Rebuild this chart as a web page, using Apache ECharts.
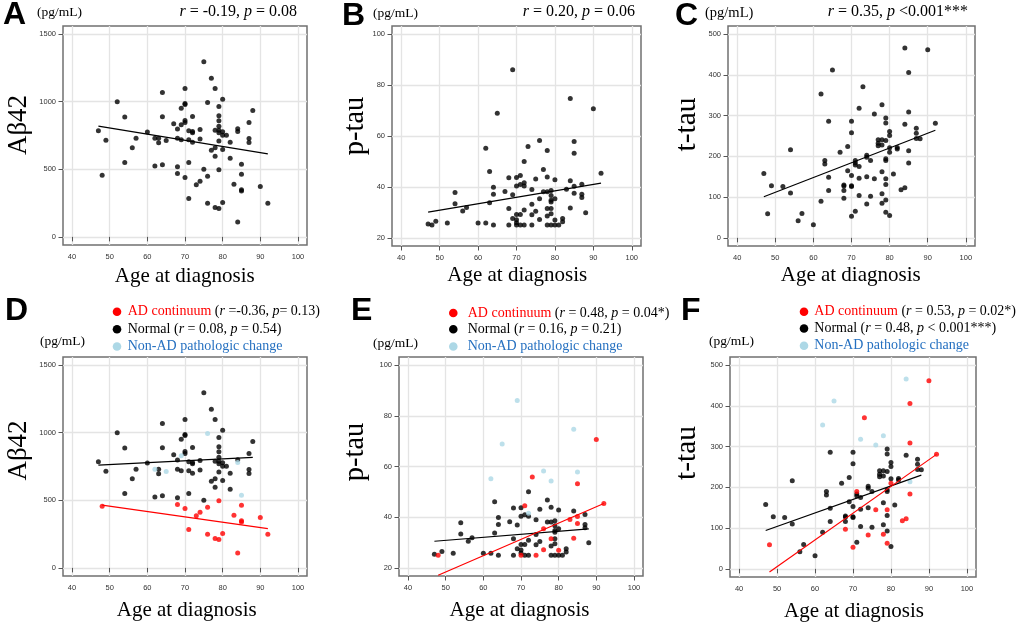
<!DOCTYPE html>
<html lang="en">
<head>
<meta charset="UTF-8">
<title>CSF biomarkers vs age at diagnosis</title>
<script src="https://cdn.jsdelivr.net/npm/echarts@6/dist/echarts.min.js"></script>
<style>
  html, body { margin: 0; padding: 0; background: #fff; }
  #chart { width: 1020px; height: 627px; }
</style>
</head>
<body>
<div id="chart"></div>
<script>
var abetaAD = [[48,456],[68,469],[70,439],[71,284],[73,385],[74,412],[76,449],[76,249],[78,217],[79,210],[79,496],[80,254],[83,390],[84,111],[85,464],[85,348],[85,340],[90,373],[92,249]];
var abetaNonAD = [[62,730],[65,713],[69,829],[76,994],[84,780],[85,538]];
var abetaNormal = [[47,785],[49,715],[52,999],[54,886],[54,550],[56,659],[57,730],[60,775],[62,525],[63,730],[63,696],[64,1068],[64,888],[64,533],[67,836],[68,799],[68,730],[68,518],[69,952],[69,718],[70,1098],[70,987],[70,979],[70,861],[70,846],[71,785],[71,718],[71,550],[72,891],[72,780],[72,770],[72,700],[74,794],[74,725],[75,1295],[75,501],[77,1174],[77,641],[78,1098],[78,789],[78,659],[78,597],[79,965],[79,896],[79,859],[79,819],[79,789],[79,770],[79,710],[80,1019],[80,777],[80,752],[80,646],[81,752],[82,700],[82,582],[84,800],[87,846],[87,728],[87,698],[88,935]];

var ptauAD = [[48,25],[70,25],[71,44.5],[73,55.9],[74,25],[76,35.4],[76,27.2],[78,31.5],[80,27],[83,39.1],[84,31.7],[85,53.2],[85,40.3],[85,37.5],[90,70.7],[92,45.4]];
var ptauNonAD = [[62,55.2],[65,68.9],[69,86],[72,41.6],[76,58.2],[78,54.3],[84,74.7],[85,57.8]];
var ptauNormal = [[47,25.4],[49,26.5],[52,25.8],[54,37.8],[54,33.4],[56,30.5],[57,31.9],[60,25.8],[62,25.8],[63,46.1],[63,33.8],[64,39.9],[64,37.1],[64,25],[67,38.2],[68,43.6],[68,31.5],[68,25],[69,36.9],[69,27.6],[70,43.7],[70,40.4],[70,29.2],[70,27.1],[70,25.9],[71,41],[71,29.2],[71,25],[72,50],[72,40.4],[72,30.9],[72,25],[74,39],[74,33.2],[74,29.1],[75,43.1],[75,30.4],[77,46.8],[77,38.1],[78,43.9],[78,38.1],[78,28.6],[78,25],[79,38.6],[79,36.6],[79,34.8],[79,34.1],[79,31.5],[79,29.5],[79,25],[80,42.8],[80,35.4],[80,25],[81,25],[82,27.6],[82,26.3],[84,42.4],[87,41.1],[87,37.1],[87,35.8],[88,29.9]];

var ttauAD = [[48,59],[68,97],[70,53],[71,190],[73,371],[74,83],[76,145],[78,85],[79,145],[79,63],[80,210],[83,118],[84,123],[85,406],[85,309],[85,184],[90,462],[92,281]];
var ttauNonAD = [[62,353],[65,412],[72,318],[76,304],[78,327],[84,466],[85,214]];
var ttauNormal = [[47,158],[49,128],[52,126],[54,216],[54,110],[56,42],[57,60],[60,32],[62,90],[63,190],[63,181],[64,286],[64,149],[64,116],[67,210],[68,130],[68,127],[68,116],[69,165],[69,224],[70,286],[70,258],[70,153],[70,128],[70,126],[71,65],[71,184],[71,179],[72,175],[72,146],[72,104],[74,203],[74,198],[74,150],[75,190],[75,102],[77,241],[77,232],[77,226],[78,241],[78,228],[78,162],[78,108],[79,294],[79,282],[79,239],[79,194],[79,190],[79,131],[79,93],[80,261],[80,251],[80,221],[80,55],[81,157],[82,222],[82,218],[84,279],[87,269],[87,257],[87,244],[88,243]];

// regression line end points
var fitAbetaAll = [[47,819],[92,614]];
var fitPtauAll = [[47,30.1],[92,41.5]];
var fitTtauAll = [[47,101],[92,264]];
var fitAbetaNormal = [[47,760],[88,817]];
var fitAbetaAD = [[48,464],[92,291]];
var fitPtauNormal = [[47,30.5],[88,35.4]];
var fitPtauAD = [[48,17.1],[92,45.4]];
var fitTtauNormal = [[47,94],[88,230]];
var fitTtauAD = [[48,-8],[92,281]];

var ageTicks = [40, 50, 60, 70, 80, 90, 100];
var abetaTicks = [0, 500, 1000, 1500];
var ptauTicks = [20, 40, 60, 80, 100];
var ttauTicks = [0, 100, 200, 300, 400, 500];

var RED = '#ff0000';
var LIGHTBLUE = '#add8e6';
var BLUE_TEXT = '#2570c0';
var SERIF = '"Liberation Serif", "Times New Roman", serif';
var SANS = '"Liberation Sans", Arial, sans-serif';

var panels = [
    { box: [63, 26, 244, 219], yr: [-60, 1560], yTicks: abetaTicks, step: 500,
      groups: [[abetaNormal.concat(abetaNonAD, abetaAD), '#000']], fits: [[fitAbetaAll, '#000']] },
    { box: [392, 26, 249, 220], yr: [16.8, 103.2], yTicks: ptauTicks, step: 20,
      groups: [[ptauNormal.concat(ptauNonAD, ptauAD), '#000']], fits: [[fitPtauAll, '#000']] },
    { box: [728, 26, 247, 220], yr: [-20, 520], yTicks: ttauTicks, step: 100,
      groups: [[ttauNormal.concat(ttauNonAD, ttauAD), '#000']], fits: [[fitTtauAll, '#000']] },
    { box: [63, 357, 244, 219], yr: [-60, 1560], yTicks: abetaTicks, step: 500,
      groups: [[abetaNormal, '#000'], [abetaNonAD, LIGHTBLUE], [abetaAD, RED]],
      fits: [[fitAbetaNormal, '#000'], [fitAbetaAD, RED]] },
    { box: [399, 357, 244, 219], yr: [16.8, 103.2], yTicks: ptauTicks, step: 20,
      groups: [[ptauNormal, '#000'], [ptauNonAD, LIGHTBLUE], [ptauAD, RED]],
      fits: [[fitPtauNormal, '#000'], [fitPtauAD, RED]] },
    { box: [730, 357, 246, 220], yr: [-20, 520], yTicks: ttauTicks, step: 100,
      groups: [[ttauNormal, '#000'], [ttauNonAD, LIGHTBLUE], [ttauAD, RED]],
      fits: [[fitTtauNormal, '#000'], [fitTtauAD, RED]] }
];

function plain(v) { return String(v); }

var grids = [], xAxes = [], yAxes = [], series = [];
panels.forEach(function (p, i) {
    grids.push({
        left: p.box[0], top: p.box[1], width: p.box[2], height: p.box[3],
        show: true, borderColor: '#707070', borderWidth: 1.5, backgroundColor: '#fff'
    });
    xAxes.push({
        type: 'value', gridIndex: i, min: 37.6, max: 102.4, interval: 10,
        axisLine: { show: false },
        axisTick: { show: true, length: 4.5, customValues: ageTicks, lineStyle: { color: '#555' } },
        axisLabel: { customValues: ageTicks, formatter: plain, fontSize: 7.5, fontFamily: SANS, color: '#333', margin: 8 },
        splitLine: { show: true, lineStyle: { color: '#e4e4e4', width: 1.3 } }
    });
    yAxes.push({
        type: 'value', gridIndex: i, min: p.yr[0], max: p.yr[1], interval: p.step,
        axisLine: { show: false },
        axisTick: { show: true, length: 4.5, customValues: p.yTicks, lineStyle: { color: '#555' } },
        axisLabel: { customValues: p.yTicks, formatter: plain, fontSize: 7.5, fontFamily: SANS, color: '#333', margin: 7 },
        splitLine: { show: true, lineStyle: { color: '#e4e4e4', width: 1.3 } }
    });
    p.groups.forEach(function (g) {
        series.push({
            type: 'scatter', xAxisIndex: i, yAxisIndex: i, data: g[0],
            symbol: 'circle', symbolSize: 5, itemStyle: { color: g[1] }, silent: true
        });
    });
    p.fits.forEach(function (f) {
        series.push({
            type: 'line', xAxisIndex: i, yAxisIndex: i, data: f[0], symbol: 'none',
            lineStyle: { color: f[1], width: 1.2 }, silent: true, z: 3
        });
    });
});

function richSet(size) {
    return {
        n: { fontFamily: SERIF, fontSize: size, fill: '#000' },
        i: { fontFamily: SERIF, fontSize: size, fontStyle: 'italic', fill: '#000' },
        red: { fontFamily: SERIF, fontSize: size, fill: RED },
        blue: { fontFamily: SERIF, fontSize: size, fill: BLUE_TEXT }
    };
}

function txt(x, y, text, size, opt) {
    opt = opt || {};
    return {
        type: 'text', x: x, y: y, rotation: opt.rot || 0, silent: true,
        style: {
            text: text, fontSize: size, fontFamily: opt.family || SERIF,
            fontWeight: opt.weight || 'normal', fill: '#000',
            align: opt.align || 'left', verticalAlign: 'middle',
            rich: opt.rich ? richSet(size) : undefined
        }
    };
}

function dot(x, y, color) {
    return { type: 'circle', shape: { cx: x, cy: y, r: 4.3 }, style: { fill: color }, silent: true };
}

var g = [];
// panel letters
[['A', 3, 15.5], ['B', 342, 16], ['C', 675, 16], ['D', 5, 311], ['E', 351, 311.5], ['F', 681, 311]].forEach(function (l) {
    g.push(txt(l[1], l[2], l[0], 32, { family: SANS, weight: 'bold' }));
});
// units
g.push(txt(37, 12.5, '(pg/mL)', 13.5));
g.push(txt(373, 13, '(pg/mL)', 13.5));
g.push(txt(705, 13.5, '(pg/mL)', 14.5));
g.push(txt(40, 341.5, '(pg/mL)', 13.5));
g.push(txt(373, 343, '(pg/mL)', 13.5));
g.push(txt(709, 341.5, '(pg/mL)', 13.5));
// top-row statistics
g.push(txt(297, 12, '{i|r}{n| = -0.19, }{i|p}{n| = 0.08}', 16, { align: 'right', rich: true }));
g.push(txt(635, 12, '{i|r}{n| = 0.20, }{i|p}{n| = 0.06}', 16, { align: 'right', rich: true }));
g.push(txt(968, 12, '{i|r}{n| = 0.35, }{i|p}{n| <0.001***}', 16, { align: 'right', rich: true }));
// y axis titles
g.push(txt(19, 125, 'A\u03b242', 27, { align: 'center', rot: Math.PI / 2 }));
g.push(txt(356, 126, 'p-tau', 28.5, { align: 'center', rot: Math.PI / 2 }));
g.push(txt(687, 124.5, 't-tau', 29.5, { align: 'center', rot: Math.PI / 2 }));
g.push(txt(19, 450.5, 'A\u03b242', 27, { align: 'center', rot: Math.PI / 2 }));
g.push(txt(356, 452, 'p-tau', 28.5, { align: 'center', rot: Math.PI / 2 }));
g.push(txt(687, 453, 't-tau', 29.5, { align: 'center', rot: Math.PI / 2 }));
// x axis titles
[[184.7, 276.5], [517.3, 275], [850.7, 275], [186.7, 610.5], [519.5, 610.5], [854, 611]].forEach(function (c) {
    g.push(txt(c[0], c[1], 'Age at diagnosis', 21, { align: 'center' }));
});
// group legends for D, E, F
var legends = [
    { dx: 117, tx: 127.7, ys: [311.7, 329.3, 346.5],
      rows: ['{red|AD continuum }{n|(}{i|r}{n| =-0.36, }{i|p}{n|= 0.13)}', '{n|Normal (}{i|r}{n| = 0.08, }{i|p}{n| = 0.54)}'] },
    { dx: 453.3, tx: 467.7, ys: [313, 329.3, 346.5],
      rows: ['{red|AD continuum }{n|(}{i|r}{n| = 0.48, }{i|p}{n| = 0.04*)}', '{n|Normal (}{i|r}{n| = 0.16, }{i|p}{n| = 0.21)}'] },
    { dx: 804, tx: 814.3, ys: [311.7, 328.5, 345.7],
      rows: ['{red|AD continuum }{n|(}{i|r}{n| = 0.53, }{i|p}{n| = 0.02*)}', '{n|Normal (}{i|r}{n| = 0.48, }{i|p}{n| < 0.001***)}'] }
];
legends.forEach(function (l) {
    g.push(dot(l.dx, l.ys[0], RED));
    g.push(dot(l.dx, l.ys[1], '#000'));
    g.push(dot(l.dx, l.ys[2], LIGHTBLUE));
    g.push(txt(l.tx, l.ys[0], l.rows[0], 14, { rich: true }));
    g.push(txt(l.tx, l.ys[1], l.rows[1], 14, { rich: true }));
    g.push(txt(l.tx, l.ys[2], '{blue|Non-AD pathologic change}', 14, { rich: true }));
});

var chart = echarts.init(document.getElementById('chart'));
chart.setOption({
    animation: false,
    backgroundColor: '#fff',
    grid: grids,
    xAxis: xAxes,
    yAxis: yAxes,
    series: series,
    graphic: { elements: g }
});
</script>
</body>
</html>
